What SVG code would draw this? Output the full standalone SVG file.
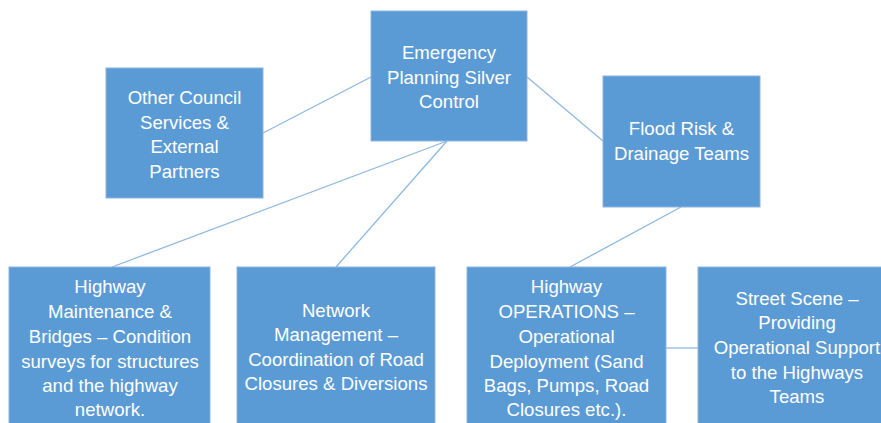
<svg xmlns="http://www.w3.org/2000/svg" width="881" height="423" viewBox="0 0 881 423">
  <style>
    .box { fill: #5B9BD5; stroke: #8DB3DE; stroke-width: 1; }
    .label { fill: #FFFFFF; font-family: "Liberation Sans", "Open Sans", Arial, sans-serif; font-size: 18.6px; text-anchor: middle; }
    .link { stroke: #8DB8E2; stroke-width: 1.3; fill: none; }
  </style>
  <rect x="0" y="0" width="881" height="423" fill="#FFFFFF"/>

  <!-- connectors -->
  <g id="connectors">
    <line class="link" x1="263" y1="133" x2="371" y2="77"/>
    <line class="link" x1="527" y1="77" x2="603" y2="141"/>
    <line class="link" x1="447" y1="141" x2="112" y2="267"/>
    <line class="link" x1="447" y1="141" x2="336" y2="267"/>
    <line class="link" x1="681" y1="207" x2="570" y2="267"/>
    <line class="link" x1="666" y1="348" x2="698" y2="348"/>
  </g>

  <g id="silver-control">
    <rect class="box" x="371" y="11" width="156" height="130"/>
    <text class="label"><tspan x="449" y="59">Emergency</tspan><tspan x="449" y="84">Planning Silver</tspan><tspan x="449" y="108">Control</tspan></text>
  </g>

  <g id="council-partners">
    <rect class="box" x="106" y="68" width="157" height="130"/>
    <text class="label"><tspan x="184.5" y="104">Other Council</tspan><tspan x="184.5" y="129">Services &amp;</tspan><tspan x="184.5" y="153">External</tspan><tspan x="184.5" y="178">Partners</tspan></text>
  </g>

  <g id="flood-drainage">
    <rect class="box" x="603" y="76" width="157" height="131"/>
    <text class="label"><tspan x="681.5" y="135">Flood Risk &amp;</tspan><tspan x="681.5" y="160">Drainage Teams</tspan></text>
  </g>

  <g id="highway-maintenance">
    <rect class="box" x="9" y="267" width="201" height="170"/>
    <text class="label"><tspan x="110" y="293">Highway</tspan><tspan x="110" y="318">Maintenance &amp;</tspan><tspan x="110" y="343">Bridges – Condition</tspan><tspan x="110" y="368">surveys for structures</tspan><tspan x="110" y="392">and the highway</tspan><tspan x="110" y="416">network.</tspan></text>
  </g>

  <g id="network-management">
    <rect class="box" x="237" y="267" width="198" height="170"/>
    <text class="label"><tspan x="336" y="317">Network</tspan><tspan x="336" y="341">Management –</tspan><tspan x="336" y="366">Coordination of Road</tspan><tspan x="336" y="390">Closures &amp; Diversions</tspan></text>
  </g>

  <g id="highway-operations">
    <rect class="box" x="467" y="267" width="199" height="170"/>
    <text class="label"><tspan x="566.5" y="293">Highway</tspan><tspan x="566.5" y="318">OPERATIONS –</tspan><tspan x="566.5" y="343">Operational</tspan><tspan x="566.5" y="368">Deployment (Sand</tspan><tspan x="566.5" y="392">Bags, Pumps, Road</tspan><tspan x="566.5" y="416">Closures etc.).</tspan></text>
  </g>

  <g id="street-scene">
    <rect class="box" x="698" y="267" width="199" height="170"/>
    <text class="label"><tspan x="797" y="305">Street Scene –</tspan><tspan x="797" y="329">Providing</tspan><tspan x="797" y="354">Operational Support</tspan><tspan x="797" y="379">to the Highways</tspan><tspan x="797" y="403">Teams</tspan></text>
  </g>
</svg>
